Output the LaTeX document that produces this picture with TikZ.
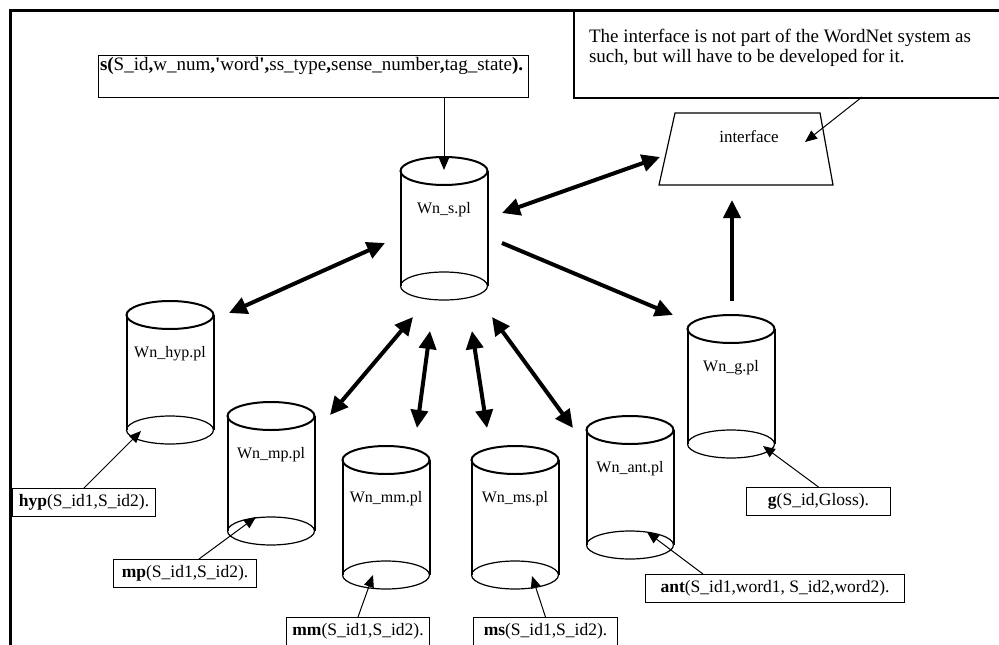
\documentclass[tikz,border=0pt]{standalone}
\usepackage{fontspec}
\setmainfont{Liberation Serif}
\usetikzlibrary{arrows.meta}

\tikzset{
  outer/.style={line width=3pt},
  cylside/.style={line width=2pt},
  cylbase/.style={line width=1.2pt},
  cylbox/.style={minimum width=87pt, minimum height=143pt, inner sep=0pt},
  cyltext/.style={font=\fontsize{16}{19}\selectfont, inner sep=0pt},
  factbox/.style={draw, line width=1pt, inner sep=0pt, minimum height=28pt,
    font=\fontsize{17.5}{21}\selectfont, anchor=north west},
  thinarrow/.style={line width=1pt, -{Triangle[length=12pt,width=10pt]}},
  bigarrow/.style={line width=4pt, {Triangle[length=18pt,width=17pt]}-{Triangle[length=18pt,width=17pt]}},
  onearrow/.style={line width=4pt, -{Triangle[length=18pt,width=17pt]}},
}

% database cylinder: name, centre x, y of the top ellipse, file name
\newcommand\dbcyl[4]{%
  \node[cylbox] (#1) at (#2,#3+57.5) {};
  \draw[cylside] (#2,#3) ellipse [x radius=43.5pt, y radius=14pt];
  \draw[cylside] (#2-43.5,#3) -- (#2-43.5,#3+115)
                 (#2+43.5,#3) -- (#2+43.5,#3+115);
  \draw[cylbase] (#2,#3+115) ellipse [x radius=43.5pt, y radius=14pt];
  \node[cyltext] (#1-label) at (#2,#3+39) {#4};
}

\begin{document}
\begin{tikzpicture}[x=1pt,y=-1pt]
\useasboundingbox (0,0) rectangle (999,645);
\fill[white] (0,0) rectangle (999,645);

% outer frame
\draw[outer] (10,10) rectangle (1020,670);

% remark on the interface
\node[draw, line width=2pt, anchor=north west, inner sep=0pt] (note) at (573,10)
  {\parbox[c][87pt][t]{440pt}{\fontsize{19}{20}\selectfont\vspace*{18.5pt}%
   \hspace*{15pt}The interface is not part of the WordNet system as\\
   \hspace*{15pt}such, but will have to be developed for it.}};

% record format of Wn_s.pl
\node[draw, line width=1pt, anchor=north west, inner sep=0pt] (sbox) at (98,55)
  {\parbox[c][42pt][t]{430pt}{\fontsize{19}{21}\selectfont\hspace*{1.5pt}\strut
   \textbf{s(}S\_id\textbf{,}w\_num\textbf{,\textquotesingle}word\textbf{\textquotesingle,}ss\_type\textbf{,}sense\_number\textbf{,}tag\_state\textbf{).}}};

% interface
\draw[line width=1.2pt] (675,113) -- (820,113) -- (833,185) -- (659,185) -- cycle;
\node[font=\fontsize{17}{20}\selectfont, inner sep=0pt] (iface) at (749,137) {interface};

% databases
\dbcyl{wns}{444}{171}{Wn\_s.pl}
\dbcyl{hyp}{170}{315}{Wn\_hyp.pl}
\dbcyl{mp}{271}{416}{Wn\_mp.pl}
\dbcyl{mm}{386}{460}{Wn\_mm.pl}
\dbcyl{ms}{515}{460}{Wn\_ms.pl}
\dbcyl{ant}{630}{430}{Wn\_ant.pl}
\dbcyl{g}{731}{329}{Wn\_g.pl}

% record formats of the other files
\node[factbox, minimum width=143pt] (hypbox) at (12,488) {\textbf{hyp}(S\_id1,S\_id2).};
\node[factbox, minimum width=143pt] (mpbox) at (113,559) {\textbf{mp}(S\_id1,S\_id2).};
\node[factbox, minimum width=143pt] (mmbox) at (286,617) {\textbf{mm}(S\_id1,S\_id2).};
\node[factbox, minimum width=144pt] (msbox) at (473,617) {\textbf{ms}(S\_id1,S\_id2).};
\node[factbox, minimum width=259pt] (antbox) at (645,574) {\textbf{ant}(S\_id1,word1, S\_id2,word2).};
\node[factbox, minimum width=144pt] (gbox) at (746,487) {\textbf{g}(S\_id,Gloss).};

% end points of the connectors
\coordinate (wns-top) at (444,170);
\coordinate (iface-in) at (805,142);
\coordinate (note-out) at (862,97);
\coordinate (wns-iface) at (502,213);
\coordinate (iface-wns) at (660,157);
\coordinate (wns-g) at (502,243);
\coordinate (g-wns) at (673,315);
\coordinate (g-up) at (732,301);
\coordinate (iface-g) at (732,200);
\coordinate (wns-hyp) at (385,243);
\coordinate (hyp-wns) at (229,313);
\coordinate (wns-mp) at (413,317);
\coordinate (mp-wns) at (330,415);
\coordinate (wns-mm) at (430,331);
\coordinate (mm-wns) at (417,428);
\coordinate (wns-ms) at (472,331);
\coordinate (ms-wns) at (487,428);
\coordinate (wns-ant) at (492,317);
\coordinate (ant-wns) at (573,428);
\coordinate (hyp-in) at (141,431);
\coordinate (mp-in) at (256,517);
\coordinate (mm-in) at (373,575);
\coordinate (ms-in) at (532,576);
\coordinate (ant-in) at (647,532);
\coordinate (g-in) at (763,446);
\coordinate (mpbox-out) at (199,559);
\coordinate (antbox-out) at (703,574);

% thin connectors
\draw[thinarrow] (sbox.south -| wns) -- (wns-top);
\draw[thinarrow] (note-out) -- (iface-in);
\draw[thinarrow] (hypbox.north) -- (hyp-in);
\draw[thinarrow] (mpbox-out) -- (mp-in);
\draw[thinarrow] (mmbox.north) -- (mm-in);
\draw[thinarrow] (msbox.north) -- (ms-in);
\draw[thinarrow] (antbox-out) -- (ant-in);
\draw[thinarrow] (gbox.north) -- (g-in);

% thick connectors
\draw[bigarrow] (wns-iface) -- (iface-wns);
\draw[onearrow] (wns-g) -- (g-wns);
\draw[onearrow] (g-up) -- (iface-g);
\draw[bigarrow] (wns-hyp) -- (hyp-wns);
\draw[bigarrow] (wns-mp) -- (mp-wns);
\draw[bigarrow] (wns-mm) -- (mm-wns);
\draw[bigarrow] (wns-ms) -- (ms-wns);
\draw[bigarrow] (wns-ant) -- (ant-wns);
\end{tikzpicture}
\end{document}
